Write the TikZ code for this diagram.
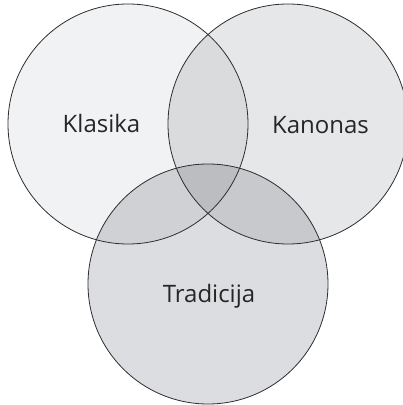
\documentclass[tikz,border=0pt]{standalone}
\usepackage{fontspec}
\setmainfont{Open Sans}
\definecolor{cL}{HTML}{F1F2F4}
\definecolor{cR}{HTML}{E6E7E9}
\definecolor{cB}{HTML}{DCDDE0}
\definecolor{cLR}{HTML}{DADBDD}
\definecolor{cLB}{HTML}{D0D1D4}
\definecolor{cRB}{HTML}{C8C9CC}
\definecolor{cLRB}{HTML}{BCBDC0}
\definecolor{edge}{HTML}{2E2E30}
\begin{document}
\begin{tikzpicture}[x=1pt,y=1pt,
  lbl/.style={anchor=base,font=\fontsize{24}{28}\selectfont,text=black!85,inner sep=0pt},
  ring/.style={draw=edge,line width=0.8pt}]
\useasboundingbox (0,0) rectangle (403,405);
\coordinate (cl) at (128,281);
\coordinate (cr) at (288,281);
\coordinate (cb) at (208,121);
\def\rr{120}
% single fills
\fill[cL] (cl) circle (\rr);
\fill[cR] (cr) circle (\rr);
\fill[cB] (cb) circle (\rr);
% pairwise
\begin{scope}\clip (cl) circle (\rr); \fill[cLR] (cr) circle (\rr);\end{scope}
\begin{scope}\clip (cl) circle (\rr); \fill[cLB] (cb) circle (\rr);\end{scope}
\begin{scope}\clip (cr) circle (\rr); \fill[cRB] (cb) circle (\rr);\end{scope}
\begin{scope}\clip (cl) circle (\rr); \clip (cr) circle (\rr); \fill[cLRB] (cb) circle (\rr);\end{scope}
% outlines
\draw[ring] (cl) circle (\rr);
\draw[ring] (cr) circle (\rr);
\draw[ring] (cb) circle (\rr);
% labels
\node[lbl] (klasika) at (101.5,272) {Klasika};
\node[lbl] (kanonas) at (320.5,271) {Kanonas};
\node[lbl] (tradicija) at (209,102) {Tradicija};
\end{tikzpicture}
\end{document}
